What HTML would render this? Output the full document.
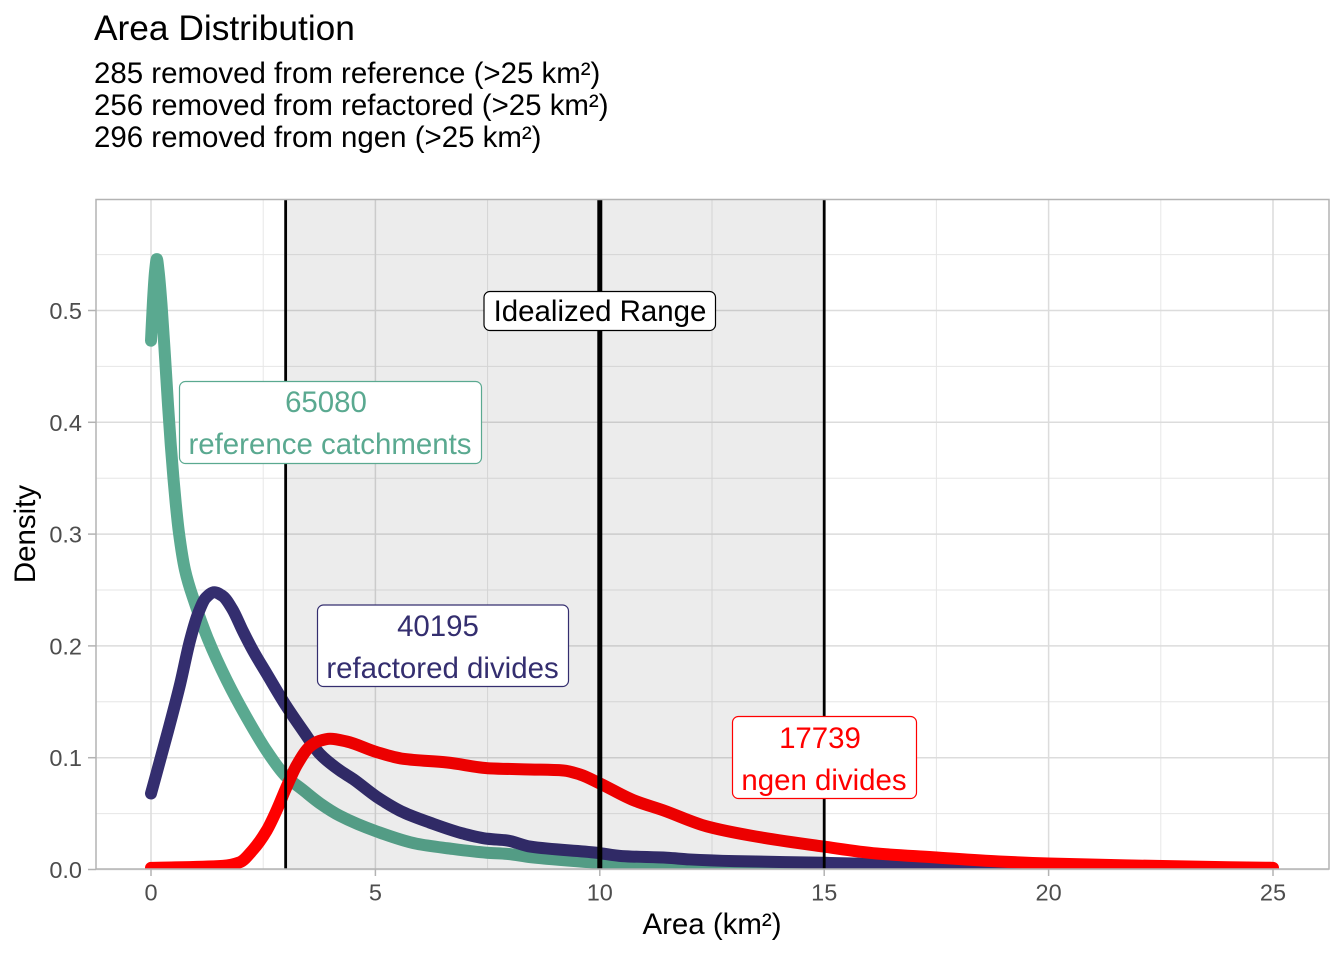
<!DOCTYPE html>
<html lang="en">
<head>
<meta charset="utf-8">
<title>Area Distribution</title>
<style>
  html, body { margin: 0; padding: 0; background: #fff; }
  svg { display: block; font-family: "Liberation Sans", Arial, sans-serif; }
</style>
</head>
<body>
<svg id="chart" width="1344" height="960" viewBox="0 0 1344 960" xmlns="http://www.w3.org/2000/svg">
  <defs>
    <clipPath id="panel-clip"><rect x="96" y="199" width="1233" height="670"/></clipPath>
  </defs>
  <rect x="0" y="0" width="1344" height="960" fill="#fff"/>
  <text x="94" y="40" font-size="35.3" fill="#000">Area Distribution</text>
  <text x="94" y="83" font-size="29.45" fill="#000">285 removed from reference (&gt;25 km²)</text>
  <text x="94" y="115" font-size="29.45" fill="#000">256 removed from refactored (&gt;25 km²)</text>
  <text x="94" y="147" font-size="29.45" fill="#000">296 removed from ngen (&gt;25 km²)</text>

  <g id="grid"></g>
  <g id="axes"></g>
  <g id="series" clip-path="url(#panel-clip)"></g>
  <g id="range"></g>
  <rect x="96" y="199.5" width="1233" height="669.5" fill="none" stroke="#b3b3b3" stroke-width="1.5"/>

  <text transform="translate(35,534) rotate(-90)" text-anchor="middle" font-size="29.45" fill="#000">Density</text>
  <text x="712" y="934" text-anchor="middle" font-size="29.45" fill="#000">Area (km²)</text>

  <g>
    <rect x="484" y="291.5" width="231.5" height="39" rx="6" fill="#fff" stroke="#000" stroke-width="1.2"/>
    <text x="600" y="321" text-anchor="middle" font-size="29.45" fill="#000">Idealized Range</text>
  </g>
  <g>
    <rect x="179.5" y="381.5" width="302" height="82" rx="6" fill="#fff" stroke="#5AA990" stroke-width="1.2"/>
    <text x="326" y="412" text-anchor="middle" font-size="29.45" fill="#5AA990">65080</text>
    <text x="330" y="454" text-anchor="middle" font-size="29.45" fill="#5AA990">reference catchments</text>
  </g>
  <g>
    <rect x="317.5" y="605" width="251" height="81.5" rx="6" fill="#fff" stroke="#342E6F" stroke-width="1.2"/>
    <text x="438" y="636" text-anchor="middle" font-size="29.45" fill="#342E6F">40195</text>
    <text x="442.5" y="678" text-anchor="middle" font-size="29.45" fill="#342E6F">refactored divides</text>
  </g>
  <g>
    <rect x="732.5" y="716.5" width="184" height="82" rx="6" fill="#fff" stroke="#FF0000" stroke-width="1.2"/>
    <text x="820" y="748" text-anchor="middle" font-size="29.45" fill="#FF0000">17739</text>
    <text x="824" y="790" text-anchor="middle" font-size="29.45" fill="#FF0000">ngen divides</text>
  </g>
</svg>

<script>
// ---- chart data ----
var xTicks = [0, 5, 10, 15, 20, 25];
var xMinorTicks = [2.5, 7.5, 12.5, 17.5, 22.5];
var yTicks = [0, 0.1, 0.2, 0.3, 0.4, 0.5];
var yTickLabels = ["0.0", "0.1", "0.2", "0.3", "0.4", "0.5"];
var yMinorTicks = [0.05, 0.15, 0.25, 0.35, 0.45, 0.55];

var rangeBounds = [3, 15];
var rangeLines = [3, 10, 15];

var referenceX = [0, 0.045, 0.09, 0.13, 0.17, 0.235, 0.31, 0.38, 0.44, 0.5, 0.55, 0.62, 0.757, 0.98, 1.27, 1.69, 2.13, 2.58, 2.99, 3.39, 3.77, 4.21, 5.03, 5.92, 6.6, 7.48, 7.93, 8.45, 9.93, 11, 12, 14, 16, 25];
var referenceY = [0.473, 0.509, 0.535, 0.546, 0.535, 0.505, 0.46, 0.415, 0.38, 0.35, 0.328, 0.302, 0.268, 0.238, 0.206, 0.169, 0.136, 0.106, 0.084, 0.071, 0.059, 0.048, 0.034, 0.023, 0.019, 0.015, 0.014, 0.011, 0.006, 0.003, 0.002, 0.001, 0.0005, 0];

var refactoredX = [0, 0.38, 0.65, 0.87, 1.05, 1.22, 1.41, 1.6, 1.81, 2.05, 2.27, 2.58, 3, 3.39, 3.77, 4.21, 4.5, 5.03, 5.63, 6.21, 6.97, 7.5, 7.93, 8.45, 9.93, 10.5, 11.5, 12, 13, 15, 16, 17, 18, 19, 20, 25];
var refactoredY = [0.068, 0.124, 0.166, 0.205, 0.229, 0.243, 0.248, 0.2445, 0.233, 0.213, 0.196, 0.175, 0.147, 0.124, 0.103, 0.0885, 0.081, 0.065, 0.051, 0.042, 0.032, 0.0275, 0.026, 0.0205, 0.015, 0.012, 0.0105, 0.009, 0.0075, 0.006, 0.005, 0.003, 0.0015, 0.0007, 0.0003, 0];

var ngenX = [0, 1.6, 1.98, 2.27, 2.58, 2.8, 3, 3.25, 3.54, 3.75, 3.99, 4.36, 5.03, 5.62, 6.6, 7.55, 8.45, 9.19, 9.56, 10, 10.75, 11.41, 12.39, 13.35, 14.97, 16.17, 17.42, 18.9, 20, 22, 24, 25];
var ngenY = [0.0015, 0.0033, 0.0065, 0.0175, 0.035, 0.053, 0.072, 0.0935, 0.11, 0.115, 0.117, 0.1145, 0.105, 0.099, 0.0957, 0.0905, 0.0895, 0.0886, 0.085, 0.077, 0.062, 0.053, 0.0385, 0.0304, 0.0206, 0.0143, 0.011, 0.0072, 0.0054, 0.0035, 0.002, 0.0015];

// ---- axis functions ----
var NS = "http://www.w3.org/2000/svg";
function xScale(v) { return 151 + v * 44.88; }
function yScale(v) { return 869.5 - v * 1118; }

function make(tag, attrs, parent) {
  var el = document.createElementNS(NS, tag);
  for (var k in attrs) el.setAttribute(k, attrs[k]);
  parent.appendChild(el);
  return el;
}

// monotone cubic interpolation through the data points
function curvePath(xs, ys) {
  var px = xs.map(xScale), py = ys.map(yScale), n = px.length, i;
  var sec = [], tan = [];
  for (i = 0; i < n - 1; i++) sec.push((py[i + 1] - py[i]) / (px[i + 1] - px[i]));
  tan.push(sec[0]);
  for (i = 1; i < n - 1; i++) {
    if (sec[i - 1] * sec[i] <= 0) { tan.push(0); continue; }
    var h0 = px[i] - px[i - 1], h1 = px[i + 1] - px[i];
    var w1 = 2 * h1 + h0, w2 = h1 + 2 * h0;
    tan.push((w1 + w2) / (w1 / sec[i - 1] + w2 / sec[i]));
  }
  tan.push(sec[n - 2]);
  var d = "M" + px[0].toFixed(2) + "," + py[0].toFixed(2);
  for (i = 0; i < n - 1; i++) {
    var h = (px[i + 1] - px[i]) / 3;
    d += "C" + (px[i] + h).toFixed(2) + "," + (py[i] + tan[i] * h).toFixed(2) + " " +
         (px[i + 1] - h).toFixed(2) + "," + (py[i + 1] - tan[i + 1] * h).toFixed(2) + " " +
         px[i + 1].toFixed(2) + "," + py[i + 1].toFixed(2);
  }
  return d;
}

var gridG = document.getElementById("grid");
var axesG = document.getElementById("axes");
var seriesG = document.getElementById("series");
var rangeG = document.getElementById("range");

// minor grid
xMinorTicks.forEach(function (v) {
  var el = make("line", { x1: xScale(v), x2: xScale(v), y1: 199, y2: 869, stroke: "#e6e6e6", "stroke-width": 1 }, gridG);
  
  
});
yMinorTicks.forEach(function (v) {
  var el = make("line", { x1: 96, x2: 1329, y1: yScale(v), y2: yScale(v), stroke: "#e6e6e6", "stroke-width": 1 }, gridG);
  
  
});
// major grid, ticks, labels
xTicks.forEach(function (v) {
  var g = make("line", { x1: xScale(v), x2: xScale(v), y1: 199, y2: 869, stroke: "#dcdcdc", "stroke-width": 1.5 }, gridG);
  
  
  var t = make("line", { x1: xScale(v), x2: xScale(v), y1: 869, y2: 876, stroke: "#b3b3b3", "stroke-width": 1.5 }, axesG);
  
  
  var l = make("text", { x: xScale(v), y: 900.5, "text-anchor": "middle", "font-size": 23.5, fill: "#4d4d4d" }, axesG);
  
  
  l.textContent = String(v);
});
yTicks.forEach(function (v, i) {
  var g = make("line", { x1: 96, x2: 1329, y1: yScale(v), y2: yScale(v), stroke: "#dcdcdc", "stroke-width": 1.5 }, gridG);
  
  
  var t = make("line", { x1: 88, x2: 96, y1: yScale(v), y2: yScale(v), stroke: "#b3b3b3", "stroke-width": 1.5 }, axesG);
  
  
  var l = make("text", { x: 82, y: yScale(v) + 8.5, "text-anchor": "end", "font-size": 23.5, fill: "#4d4d4d" }, axesG);
  
  
  l.textContent = yTickLabels[i];
});

// curves
var refLine = make("path", { d: curvePath(referenceX, referenceY), fill: "none", stroke: "#5AA990", "stroke-width": 12, "stroke-linecap": "round", "stroke-linejoin": "round" }, seriesG);



var refacLine = make("path", { d: curvePath(refactoredX, refactoredY), fill: "none", stroke: "#342E6F", "stroke-width": 12, "stroke-linecap": "round", "stroke-linejoin": "round" }, seriesG);



var ngenLine = make("path", { d: curvePath(ngenX, ngenY), fill: "none", stroke: "#FF0000", "stroke-width": 12, "stroke-linecap": "round", "stroke-linejoin": "round" }, seriesG);



// idealized range shade and lines
var shade = make("rect", { x: xScale(rangeBounds[0]), y: 199, width: xScale(rangeBounds[1]) - xScale(rangeBounds[0]), height: 670, fill: "#000", "fill-opacity": 0.075 }, rangeG);



rangeLines.forEach(function (v) {
  var el = make("line", { x1: xScale(v), x2: xScale(v), y1: 199, y2: 869, stroke: "#000", "stroke-width": v === 10 ? 5 : 2.8 }, rangeG);
  
  
});
</script>
</body>
</html>
